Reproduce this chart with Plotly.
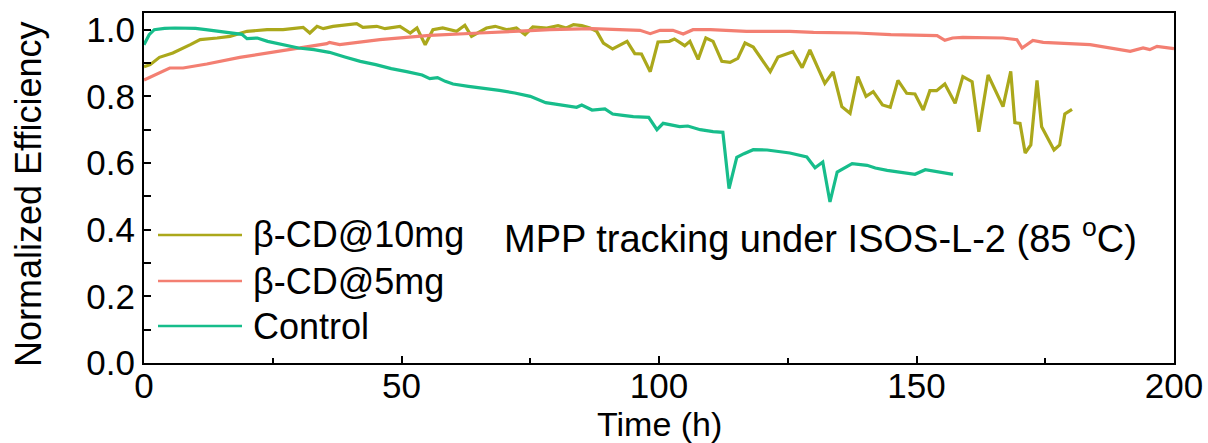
import plotly.graph_objects as go

# ---- data -------------------------------------------------------------
series_names = ["β-CD@10mg", "β-CD@5mg", "Control"]
series_colors = ["#ABA81B", "#F37F72", "#17BD8B"]

t_10mg = [0, 1.2, 3, 5.6, 9, 10.9, 14.2, 16.7, 20, 23.9, 27, 29.7, 30.9, 32.2, 33.6, 34.8,
          36.7, 41.3, 42.5, 45.2, 46.8, 49.7, 51.7, 53, 54.6, 56.1, 58, 60.7, 62.3, 63.6,
          66.5, 68.2, 70.5, 72.3, 74, 75.5, 78.2, 80.4, 82, 83.4, 85, 86.6, 87.9, 89.2,
          91, 93.8, 95.3, 96.6, 98.3, 99.8, 102, 103, 105, 106, 107.6, 109.1, 110.5,
          112.2, 113.8, 115.3, 116.7, 118.3, 120, 121.6, 123.1, 126, 127.8, 129.3, 132.2,
          133.8, 135.5, 137.1, 138.6, 140.2, 141.6, 143.4, 144.9, 146.4, 148.1, 149.7,
          151.3, 152.6, 153.9, 155.5, 157.5, 159, 160.8, 162.1, 163.9, 166.8, 168.3,
          169.1, 170.1, 171.1, 172.2, 173.4, 174.3, 175.3, 176.7, 177.8, 178.8, 180.2]
v_10mg = [0.889, 0.895, 0.917, 0.93, 0.955, 0.97, 0.975, 0.98, 0.995, 1.0, 1.0, 1.005, 1.007,
          0.99, 1.01, 1.003, 1.01, 1.018, 1.007, 1.01, 1.003, 1.01, 0.99, 1.005, 0.955, 1.0,
          1.005, 0.995, 1.013, 0.98, 1.005, 1.01, 1.0, 1.005, 0.985, 1.008, 1.005, 1.012,
          1.005, 1.015, 1.012, 1.005, 0.995, 0.96, 0.942, 0.965, 0.928, 0.927, 0.874,
          0.963, 0.965, 0.972, 0.952, 0.965, 0.911, 0.975, 0.965, 0.905, 0.902, 0.914,
          0.96, 0.948, 0.91, 0.874, 0.918, 0.934, 0.886, 0.939, 0.839, 0.873, 0.769,
          0.749, 0.859, 0.8, 0.814, 0.774, 0.767, 0.848, 0.809, 0.807, 0.759, 0.817,
          0.817, 0.837, 0.779, 0.859, 0.844, 0.694, 0.864, 0.769, 0.875, 0.721, 0.719,
          0.63, 0.654, 0.848, 0.709, 0.679, 0.639, 0.654, 0.747, 0.761]

t_5mg = [0, 2.5, 5, 7.6, 12.2, 18.6, 25, 31.6, 35.5, 36, 38, 45.8, 55.5, 65.2, 70.5, 75,
         78.8, 87, 96.3, 98.3, 100.2, 102.7, 104.7, 106.6, 110, 117, 125.4, 130, 138.4,
         145, 154, 155.5, 157, 159, 166.8, 169.5, 170.5, 172.6, 174.6, 183.7, 191.5,
         194, 195.3, 196.7, 200]
v_5mg = [0.849, 0.866, 0.885, 0.885, 0.897, 0.917, 0.933, 0.948, 0.958, 0.962, 0.955, 0.97,
         0.983, 0.99, 0.995, 0.997, 1.0, 1.003, 0.998, 0.988, 0.998, 0.998, 0.987, 1.0,
         1.0, 0.995, 0.995, 0.992, 0.99, 0.985, 0.982, 0.968, 0.975, 0.977, 0.975, 0.97,
         0.945, 0.968, 0.962, 0.955, 0.935, 0.945, 0.94, 0.95, 0.943]

t_ctrl = [0, 1, 2, 4, 6, 8, 10, 12, 14, 16, 18, 19, 20, 22, 24, 26, 28, 30, 33, 36, 39, 42,
          45, 48, 51, 54, 55.5, 57, 58.5, 60, 63, 66, 69, 72, 75, 78, 81, 84, 85, 87, 89.5,
          91, 93, 95, 98, 99.6, 100.8, 102, 104, 105.6, 108, 110.5, 112.4, 113.6, 115.1,
          116.5, 118.3, 121, 123, 125.4, 128.7, 130.3, 131.8, 133.2, 134.6, 136, 137.5,
          140.4, 142, 144.3, 147, 149.7, 151.7, 154, 157.1]
v_ctrl = [0.955, 0.985, 1.0, 1.004, 1.005, 1.005, 1.004, 1.0, 0.996, 0.992, 0.988, 0.986,
          0.973, 0.975, 0.965, 0.958, 0.952, 0.945, 0.94, 0.932, 0.918, 0.905, 0.895, 0.883,
          0.874, 0.864, 0.853, 0.856, 0.845, 0.837, 0.83, 0.825, 0.818, 0.81, 0.8, 0.781,
          0.775, 0.767, 0.774, 0.759, 0.762, 0.747, 0.743, 0.739, 0.737, 0.7, 0.719, 0.715,
          0.709, 0.711, 0.7, 0.694, 0.692, 0.523, 0.617, 0.628, 0.64, 0.639, 0.635, 0.63,
          0.618, 0.586, 0.603, 0.483, 0.573, 0.585, 0.598, 0.593, 0.585, 0.578, 0.572,
          0.566, 0.58, 0.573, 0.566]

x_ticks = [0, 50, 100, 150, 200]
y_ticks = [0.0, 0.2, 0.4, 0.6, 0.8, 1.0]
y_tick_labels = ["0.0", "0.2", "0.4", "0.6", "0.8", "1.0"]
x_title = "Time (h)"
y_title = "Normalized Efficiency"
note_text = "MPP tracking under ISOS-L-2 (85 <sup>o</sup>C)"

# ---- figure -----------------------------------------------------------
FONT = "Arial, Liberation Sans, sans-serif"
W, H = 1208, 443
ML, MR, MT, MB = 144, 34, 13, 80

fig = go.Figure()
all_series = [(t_10mg, v_10mg), (t_5mg, v_5mg), (t_ctrl, v_ctrl)]
for (tx, vy), name, col in zip(all_series, series_names, series_colors):
    fig.add_trace(go.Scatter(x=tx, y=vy, mode="lines", name=name,
                             line=dict(color=col, width=3.2), showlegend=False))

# pixel -> paper helpers for the legend block and axis titles
pw = W - ML - MR
ph = H - MT - MB
def px_x(p):
    return (p - ML) / pw
def px_y(p):
    return 1 - (p - MT) / ph

legend_rows = [235, 281, 326]
for name, col, row in zip(series_names, series_colors, legend_rows):
    fig.add_shape(type="line", xref="paper", yref="paper",
                  x0=px_x(158), x1=px_x(242), y0=px_y(row), y1=px_y(row),
                  line=dict(color=col, width=2.5))
    fig.add_annotation(x=px_x(251), y=px_y(row), xref="paper", yref="paper",
                       text=name, showarrow=False, xanchor="left", yanchor="middle",
                       font=dict(family=FONT, size=36, color="black"))

fig.add_annotation(x=px_x(502), y=px_y(236), xref="paper", yref="paper",
                   text=note_text, showarrow=False, xanchor="left", yanchor="middle",
                   font=dict(family=FONT, size=38, color="black"))

# axis titles
fig.add_annotation(x=px_x(659), y=px_y(424), xref="paper", yref="paper",
                   text=x_title, showarrow=False, xanchor="center", yanchor="middle",
                   font=dict(family=FONT, size=34, color="black"))
fig.add_annotation(x=px_x(28), y=px_y(195), xref="paper", yref="paper",
                   text=y_title, showarrow=False, xanchor="center", yanchor="middle",
                   textangle=-90, font=dict(family=FONT, size=36, color="black"))

axis_common = dict(showline=True, linecolor="black", linewidth=2, mirror=True,
                   ticks="inside", ticklen=7, tickwidth=2, tickcolor="black",
                   showgrid=False, zeroline=False, automargin=False,
                   tickfont=dict(family=FONT, size=35, color="black"))

fig.update_xaxes(range=[0, 200], tickvals=x_ticks, ticklabelstandoff=-9,
                 minor=dict(dtick=25, tick0=0, ticks="inside", ticklen=5, tickwidth=2,
                            tickcolor="black"),
                 **axis_common)
fig.update_yaxes(range=[0, 1.05], tickvals=y_ticks, ticktext=y_tick_labels,
                 minor=dict(dtick=0.1, tick0=0, ticks="inside", ticklen=7, tickwidth=2,
                            tickcolor="black"),
                 **axis_common)

fig.update_layout(width=W, height=H, margin=dict(l=ML, r=MR, t=MT, b=MB),
                  paper_bgcolor="white", plot_bgcolor="white", showlegend=False)

fig.write_html("out.html")
